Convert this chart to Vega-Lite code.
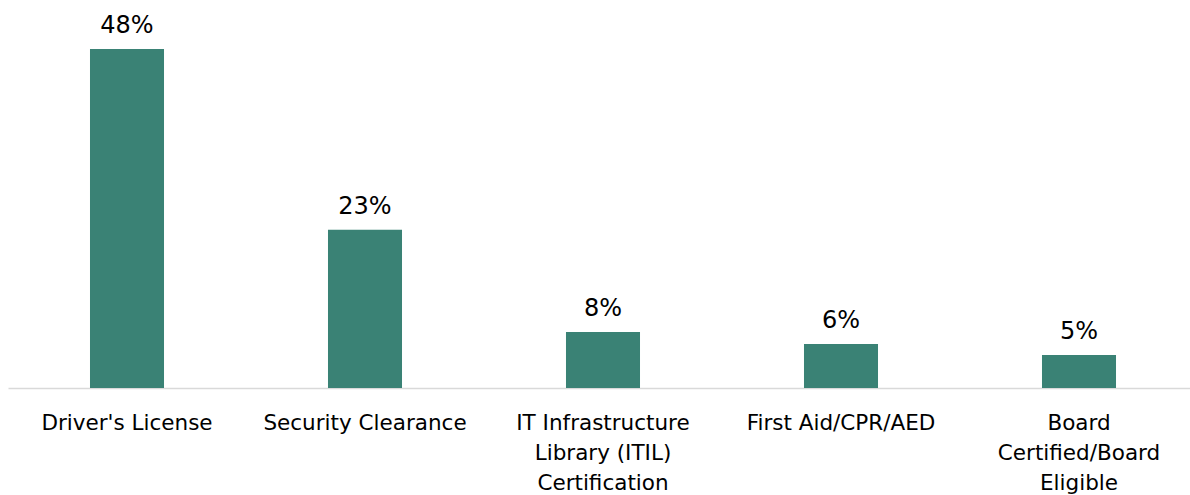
{
  "$schema": "https://vega.github.io/schema/vega-lite/v6.json",
  "width": 1190,
  "height": 388,
  "autosize": {"type": "none"},
  "padding": {"left": 8, "top": 0, "right": 0, "bottom": 107},
  "background": "white",
  "config": {"view": {"stroke": null}},
  "data": {
    "values": [
      {"cert": "Driver's License", "share": 0.484},
      {"cert": "Security Clearance", "share": 0.226},
      {"cert": "IT Infrastructure|Library (ITIL)|Certification", "share": 0.08},
      {"cert": "First Aid/CPR/AED", "share": 0.063},
      {"cert": "Board|Certified/Board|Eligible", "share": 0.047}
    ]
  },
  "encoding": {
    "x": {
      "field": "cert",
      "type": "nominal",
      "sort": null,
      "scale": {"paddingInner": 0.689, "paddingOuter": 0.3445},
      "axis": {
        "title": null,
        "labelAngle": 0,
        "labelExpr": "split(datum.value, '|')",
        "labelFont": "DejaVu Sans",
        "labelFontSize": 21.5,
        "labelColor": "#000000",
        "labelLineHeight": 30,
        "labelLimit": 0,
        "labelPadding": 24,
        "labelBaseline": "top",
        "ticks": false,
        "domainColor": "#d9d9d9",
        "domainWidth": 1.5
      }
    },
    "y": {
      "field": "share",
      "type": "quantitative",
      "scale": {"domain": [0, 0.554], "nice": false},
      "axis": null
    }
  },
  "layer": [
    {"mark": {"type": "bar", "color": "#3a8275"}},
    {
      "mark": {"type": "text", "baseline": "alphabetic", "dy": -16, "font": "DejaVu Sans", "fontSize": 24, "color": "#000000"},
      "encoding": {"text": {"field": "share", "type": "quantitative", "format": ".0%"}}
    }
  ]
}
